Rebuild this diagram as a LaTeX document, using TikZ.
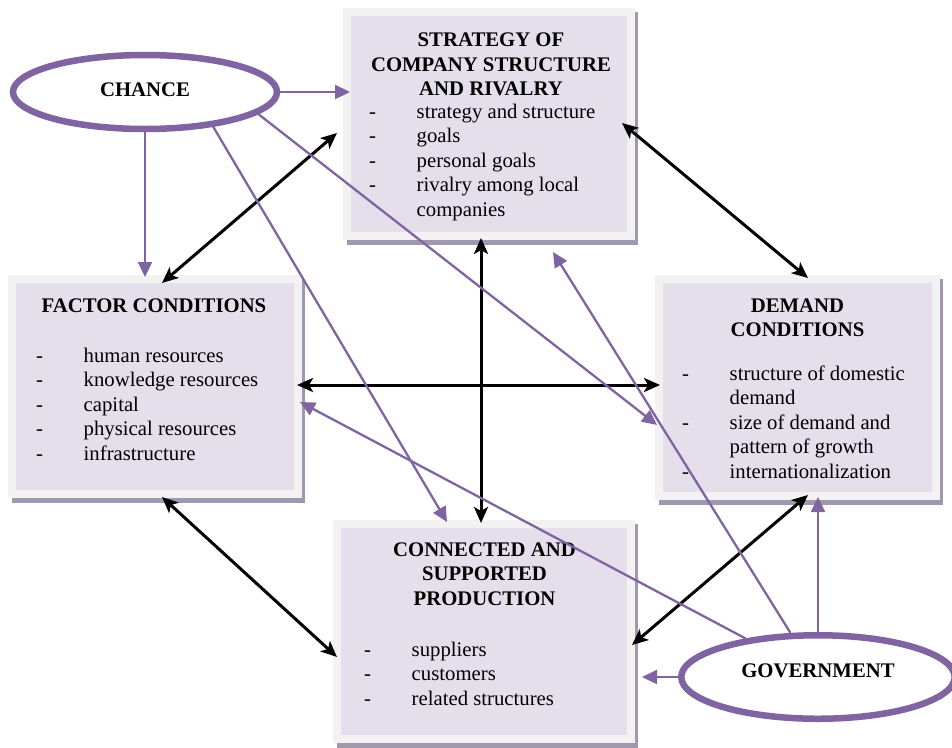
\documentclass[tikz,border=0pt]{standalone}
\usepackage{fontspec}
\setmainfont{Liberation Serif}
\usetikzlibrary{arrows.meta,shapes.geometric,backgrounds}

\definecolor{porterpurple}{HTML}{8064A2}
\definecolor{boxfill}{HTML}{E5DFEC}
\definecolor{boxrim}{HTML}{F2F2F2}
\definecolor{boxshade}{HTML}{A098AE}

\newcommand\dfont{\fontsize{20.75}{24.5}\selectfont}
\newcommand\itm[1]{\makebox[47.5pt][l]{-}#1}
\newcommand\cont[1]{\hspace*{47.5pt}#1}

\begin{document}
\begin{tikzpicture}[x=1pt,y=-1pt,
	cbox/.style={rectangle,draw=boxrim,fill=boxfill,line width=8pt,inner sep=0pt},
	oval/.style={ellipse,draw=porterpurple,fill=white,line width=6.5pt,inner sep=0pt,font=\dfont\bfseries},
	ttl/.style={anchor=north,align=center,inner sep=0pt,font=\dfont\bfseries},
	lst/.style={anchor=north west,align=left,inner sep=0pt,font=\dfont},
	both/.style={<->,>={Stealth[length=16pt,width=14pt,inset=4pt]},line width=3pt},
	infl/.style={-{Triangle[length=15pt,width=14pt]},draw=porterpurple,fill=porterpurple,line width=2.3pt}]
		\useasboundingbox (0,0) rectangle (952,747);

		\node[cbox,minimum width=284pt,minimum height=224pt] (strat) at (489,124) {};
		\node[cbox,minimum width=286pt,minimum height=215pt] (fact) at (155,386.5) {};
		\node[cbox,minimum width=277pt,minimum height=217pt] (dem) at (797.5,387.5) {};
		\node[cbox,minimum width=294pt,minimum height=215pt] (conn) at (484,631.5) {};

		\begin{scope}[on background layer]
			\foreach \b in {strat,fact,dem,conn}
				\fill[boxshade] ([shift={(4,4)}]\b.north west) rectangle ([shift={(3,5)}]\b.south east);
		\end{scope}

		\node[ttl] (strat-t) at (491,33) {STRATEGY OF\\COMPANY STRUCTURE\\AND RIVALRY};
		\node[lst] (strat-l) at (369,103.5) {\itm{strategy and structure}\\\itm{goals}\\\itm{personal goals}\\\itm{rivalry among local}\\\cont{companies}};

		\node[ttl] (fact-t) at (154,298.5) {FACTOR CONDITIONS};
		\node[lst] (fact-l) at (36,347.5) {\itm{human resources}\\\itm{knowledge resources}\\\itm{capital}\\\itm{physical resources}\\\itm{infrastructure}};

		\node[ttl] (dem-t) at (797.5,298.5) {DEMAND\\CONDITIONS};
		\node[lst] (dem-l) at (682,365.5) {\itm{structure of domestic}\\\cont{demand}\\\itm{size of demand and}\\\cont{pattern of growth}\\\itm{internationalization}};

		\node[ttl] (conn-t) at (484.5,542.5) {CONNECTED AND\\SUPPORTED\\PRODUCTION};
		\node[lst] (conn-l) at (364,641.5) {\itm{suppliers}\\\itm{customers}\\\itm{related structures}};

		\node[oval,minimum width=264pt,minimum height=74pt,text depth=4pt] (chance) at (145,92) {CHANCE};
		\node[oval,minimum width=273.5pt,minimum height=83.5pt,text depth=12pt] (gov) at (818,677) {GOVERNMENT};

		\draw[both] ([shift={(-6,9)}]strat.west) -- ([shift={(7,8)}]fact.north);
		\draw[both] ([shift={(-13,-1)}]strat.east) -- ([shift={(10.5,3)}]dem.north);
		\draw[both] ([shift={(-8,-2)}]strat.south) -- ([shift={(-3,3)}]conn.north);
		\draw[both] ([shift={(-5,-1.5)}]fact.east) -- ([shift={(5,-2.5)}]dem.west);
		\draw[both] ([shift={(7,-1)}]fact.south) -- ([shift={(4,25.5)}]conn.west);
		\draw[both] ([shift={(-3,13.5)}]conn.east) -- ([shift={(10.5,-5)}]dem.south);

		\draw[infl] (chance.east) -- ([shift={(7,-32)}]strat.west);
		\draw[infl] (chance.south) -- ([shift={(-10,2)}]fact.north);
		\draw[infl] (chance.-27) -- ([shift={(-37,2)}]conn.north);
		\draw[infl] (chance.-11) -- ([shift={(2,37.5)}]dem.west);

		\draw[infl] (gov.west) -- ([shift={(7,45.5)}]conn.east);
		\draw[infl] (gov.152) -- ([shift={(-2,15.5)}]fact.east);
		\draw[infl] (gov.122) -- ([shift={(64,12)}]strat.south);
		\draw[infl] (gov.north) -- ([shift={(20.5,-3)}]dem.south);

	\end{tikzpicture}
\end{document}
